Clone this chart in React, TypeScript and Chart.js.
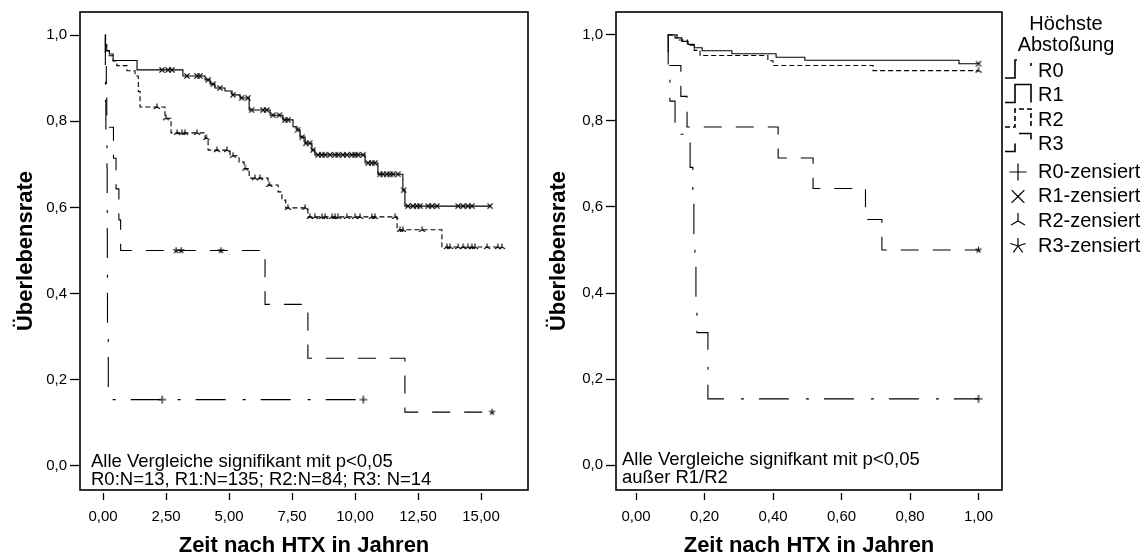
import React, { useEffect, useRef } from "react";
import { Chart, registerables } from "chart.js";

Chart.register(...registerables);

const FONT = "'Liberation Sans', Arial, Helvetica, sans-serif";

// ---------- tick labels ----------
const Y_TICKS = [0, 0.2, 0.4, 0.6, 0.8, 1.0];
const LEFT_X_TICKS = [0, 2.5, 5, 7.5, 10, 12.5, 15];
const RIGHT_X_TICKS = [0, 0.2, 0.4, 0.6, 0.8, 1.0];

// ---------- texts ----------
const GROUPS = ["R0", "R1", "R2", "R3"];
const CENSOR_LABELS = ["R0-zensiert", "R1-zensiert", "R2-zensiert", "R3-zensiert"];
const LEGEND_TITLE = ["Höchste", "Abstoßung"];
const X_TITLE = "Zeit nach HTX in Jahren";
const Y_TITLE = "Überlebensrate";
const LEFT_NOTE = ["Alle Vergleiche signifikant mit p<0,05", "R0:N=13, R1:N=135; R2:N=84; R3: N=14"];
const RIGHT_NOTE = ["Alle Vergleiche signifkant mit p<0,05", "außer R1/R2"];

// ---------- left plot (whole follow-up, years) ----------
const L_R0_T = [0.09, 0.093, 0.099, 0.114, 0.158, 0.166, 0.169, 0.172, 0.175, 0.178, 0.21, 10.33];
const L_R0_S = [1, 0.923, 0.846, 0.769, 0.692, 0.615, 0.538, 0.462, 0.385, 0.308, 0.154, 0.154];
const L_R0_C = [2.35, 10.33];

const L_R1_T = [0.09, 0.1, 0.15, 0.25, 0.4, 1.35, 3.17, 4.05, 4.25, 4.44, 4.84, 5.12, 5.44, 5.8, 6.63, 7.14, 7.54, 7.7, 7.82, 8.02, 8.29, 8.41, 10.4, 10.91, 11.9, 11.98, 15.36];
const L_R1_S = [1, 0.978, 0.963, 0.956, 0.941, 0.919, 0.905, 0.896, 0.886, 0.877, 0.87, 0.861, 0.854, 0.826, 0.814, 0.803, 0.787, 0.78, 0.763, 0.749, 0.733, 0.722, 0.703, 0.677, 0.64, 0.603, 0.603];
const L_R1_C = [2.34, 2.58, 2.74, 3.33, 3.73, 3.85, 4.17, 4.37, 4.64, 5.16, 5.5, 5.75, 5.9, 6.35, 6.5, 6.75, 7.0, 7.22, 7.34, 7.72, 7.9, 8.05, 8.2, 8.33, 8.53, 8.69, 8.81, 9.01, 9.21, 9.33, 9.52, 9.68, 9.88, 10.0, 10.12, 10.32, 10.52, 10.67, 10.79, 10.99, 11.11, 11.27, 11.39, 11.51, 11.71, 11.93, 12.1, 12.3, 12.46, 12.58, 12.9, 13.06, 13.25, 14.09, 14.29, 14.48, 14.64, 15.36];

const L_R2_T = [0.09, 0.1, 0.12, 0.25, 0.4, 0.55, 0.95, 1.27, 1.4, 1.47, 2.46, 2.7, 4.05, 4.17, 5.04, 5.4, 5.6, 5.8, 6.55, 6.95, 7.1, 7.25, 8.13, 11.67, 13.45, 15.83];
const L_R2_S = [1, 0.976, 0.964, 0.952, 0.94, 0.929, 0.917, 0.905, 0.869, 0.833, 0.807, 0.773, 0.761, 0.733, 0.72, 0.705, 0.69, 0.668, 0.652, 0.636, 0.617, 0.599, 0.578, 0.548, 0.508, 0.508];
const L_R2_C = [2.14, 2.5, 2.94, 3.13, 3.25, 3.73, 4.1, 4.52, 4.92, 5.16, 5.65, 6.03, 6.23, 6.6, 7.34, 8.02, 8.21, 8.41, 8.69, 8.81, 9.09, 9.21, 9.33, 9.68, 10.0, 10.2, 10.67, 10.79, 11.59, 11.79, 11.9, 12.66, 13.65, 13.77, 14.09, 14.29, 14.48, 14.64, 14.76, 15.24, 15.67, 15.83];

const L_R3_T = [0.09, 0.093, 0.131, 0.149, 0.415, 0.517, 0.63, 0.7, 6.43, 8.13, 11.98, 15.44];
const L_R3_S = [1, 0.929, 0.857, 0.786, 0.714, 0.643, 0.571, 0.5, 0.375, 0.25, 0.125, 0.125];
const L_R3_C = [2.9, 3.1, 4.68, 15.44];

// ---------- right plot (first year) ----------
const R_R0_T = [0.093, 0.094, 0.099, 0.114, 0.158, 0.166, 0.169, 0.172, 0.175, 0.178, 0.21, 1.0];
const R_R0_S = [1, 0.923, 0.846, 0.769, 0.692, 0.615, 0.538, 0.462, 0.385, 0.308, 0.154, 0.154];
const R_R0_C = [1.0];

const R_R1_T = [0.093, 0.114, 0.134, 0.152, 0.17, 0.193, 0.28, 0.409, 0.493, 0.943, 1.0];
const R_R1_S = [1, 0.993, 0.985, 0.978, 0.97, 0.963, 0.956, 0.948, 0.941, 0.933, 0.933];
const R_R1_C = [1.0];

const R_R2_T = [0.093, 0.12, 0.15, 0.17, 0.187, 0.385, 0.4, 0.692, 1.0];
const R_R2_S = [1, 0.988, 0.976, 0.964, 0.952, 0.94, 0.929, 0.917, 0.917];
const R_R2_C = [1.0];

const R_R3_T = [0.093, 0.094, 0.131, 0.149, 0.415, 0.517, 0.67, 0.718, 1.0];
const R_R3_S = [1, 0.929, 0.857, 0.786, 0.714, 0.643, 0.571, 0.5, 0.5];
const R_R3_C = [1.0];

// ---------- styles ----------
const DASHES = [[30, 17, 3, 15], [], [5, 3], [18, 14]];
const MARKERS = ["plus", "cross", "tri", "star"];
const PLOT_MARKER_R = [4, 3.6, 3.6, 3.2];
const LEGEND_MARKER_R = [8.5, 9, 8, 8];

type Series = { t: number[]; s: number[]; c: number[] };

const LEFT_SERIES: Series[] = [
  { t: L_R0_T, s: L_R0_S, c: L_R0_C },
  { t: L_R1_T, s: L_R1_S, c: L_R1_C },
  { t: L_R2_T, s: L_R2_S, c: L_R2_C },
  { t: L_R3_T, s: L_R3_S, c: L_R3_C },
];
const RIGHT_SERIES: Series[] = [
  { t: R_R0_T, s: R_R0_S, c: R_R0_C },
  { t: R_R1_T, s: R_R1_S, c: R_R1_C },
  { t: R_R2_T, s: R_R2_S, c: R_R2_C },
  { t: R_R3_T, s: R_R3_S, c: R_R3_C },
];

function survAt(T: number[], S: number[], t: number) {
  let v = S[0];
  for (let i = 0; i < T.length; i++) if (T[i] <= t + 1e-9) v = S[i];
  return v;
}

const ANGLES: Record<string, number[]> = {
  plus: [0, 90, 180, 270],
  cross: [45, 135, 225, 315],
  tri: [-90, 30, 150],
  star: [-90, -18, 54, 126, 198],
};

function strokeMarker(ctx: CanvasRenderingContext2D, kind: string, cx: number, cy: number, r: number, lw: number) {
  ctx.save();
  ctx.strokeStyle = "#000";
  ctx.lineWidth = lw;
  ctx.setLineDash([]);
  ctx.beginPath();
  for (const a of ANGLES[kind]) {
    const rad = (a * Math.PI) / 180;
    ctx.moveTo(cx, cy);
    ctx.lineTo(cx + r * Math.cos(rad), cy + r * Math.sin(rad));
  }
  ctx.stroke();
  ctx.restore();
}

function markerCanvas(kind: string, r: number) {
  const c = document.createElement("canvas");
  const dim = Math.ceil(r * 2 + 4);
  c.width = dim;
  c.height = dim;
  const ctx = c.getContext("2d")!;
  strokeMarker(ctx, kind, dim / 2, dim / 2, r, 1.1);
  return c;
}

const fmt = (v: number, d: number) => v.toFixed(d).replace(".", ",");

type PlotProps = {
  left: number;
  width: number;
  series: Series[];
  xMin: number;
  xMax: number;
  yMin: number;
  yMax: number;
  xTicks: number[];
  xDec: number;
  yAxisWidth: number;
  pad: { top: number; right: number };
  note: string[];
  noteDx: number;
  noteY: number[];
  legend: boolean;
};

function KMPlot(p: PlotProps) {
  const ref = useRef<HTMLCanvasElement>(null);
  useEffect(() => {
    const canvas = ref.current!;
    const datasets: any[] = [];
    p.series.forEach((se, i) => {
      datasets.push({
        data: se.t.map((t, k) => ({ x: t, y: se.s[k] })),
        showLine: true,
        stepped: true,
        borderColor: "#000",
        backgroundColor: "#000",
        borderWidth: 1.1,
        borderDash: DASHES[i],
        pointRadius: 0,
        pointHoverRadius: 0,
        fill: false,
      });
    });
    p.series.forEach((se, i) => {
      datasets.push({
        data: se.c.map((t) => ({ x: t, y: survAt(se.t, se.s, t) })),
        showLine: false,
        pointStyle: markerCanvas(MARKERS[i], PLOT_MARKER_R[i]),
        pointRadius: 4,
        pointHoverRadius: 4,
        borderColor: "#000",
        backgroundColor: "#000",
      });
    });

    const framePlugin = {
      id: "frame",
      afterDatasetsDraw(chart: any) {
        const { ctx, chartArea } = chart;
        ctx.save();
        ctx.strokeStyle = "#000";
        ctx.lineWidth = 1.6;
        ctx.setLineDash([]);
        ctx.strokeRect(chartArea.left, chartArea.top, chartArea.right - chartArea.left, chartArea.bottom - chartArea.top);
        ctx.font = `18.5px ${FONT}`;
        ctx.fillStyle = "#000";
        ctx.textAlign = "left";
        ctx.textBaseline = "alphabetic";
        p.note.forEach((line, i) => ctx.fillText(line, chartArea.left + p.noteDx, p.noteY[i]));
        ctx.restore();
      },
    };

    const legendPlugin = {
      id: "kmLegend",
      afterDraw(chart: any) {
        if (!p.legend) return;
        const ctx: CanvasRenderingContext2D = chart.ctx;
        const ox = -p.left;
        ctx.save();
        ctx.fillStyle = "#000";
        ctx.font = `20px ${FONT}`;
        ctx.textAlign = "center";
        ctx.textBaseline = "alphabetic";
        ctx.fillText(LEGEND_TITLE[0], 1066 + ox, 30);
        ctx.fillText(LEGEND_TITLE[1], 1066 + ox, 51);
        ctx.textAlign = "left";
        ctx.textBaseline = "middle";
        const lineY = [71, 95.5, 120, 144.5];
        const markY = [172, 196.5, 221, 246];
        GROUPS.forEach((g, i) => {
          const cy = lineY[i];
          ctx.save();
          ctx.strokeStyle = "#000";
          ctx.lineWidth = 1.6;
          ctx.setLineDash(DASHES[i]);
          ctx.beginPath();
          ctx.moveTo(1005 + ox, cy + 7);
          ctx.lineTo(1015 + ox, cy + 7);
          ctx.lineTo(1015 + ox, cy - 11);
          ctx.lineTo(1031 + ox, cy - 11);
          ctx.lineTo(1031 + ox, cy + 7);
          ctx.stroke();
          ctx.restore();
          ctx.fillText(g, 1038 + ox, cy);
        });
        CENSOR_LABELS.forEach((g, i) => {
          const cy = markY[i];
          strokeMarker(ctx, MARKERS[i], 1018 + ox, cy, LEGEND_MARKER_R[i], 1.2);
          ctx.fillText(g, 1038 + ox, cy);
        });
        ctx.restore();
      },
    };

    const chart = new Chart(canvas, {
      type: "scatter",
      data: { datasets },
      options: {
        responsive: false,
        animation: false,
        events: [],
        layout: { padding: { left: 0, top: p.pad.top, right: p.pad.right, bottom: 0 } },
        plugins: { legend: { display: false }, tooltip: { enabled: false } },
        scales: {
          x: {
            type: "linear",
            min: p.xMin,
            max: p.xMax,
            afterBuildTicks: (s: any) => {
              s.ticks = p.xTicks.map((v) => ({ value: v }));
            },
            afterFit: (s: any) => {
              s.height = 69;
            },
            border: { display: false },
            grid: {
              drawOnChartArea: false,
              drawTicks: true,
              tickLength: 10,
              tickColor: "#000",
              tickWidth: 1.3,
              tickBorderDash: [0, 3, 7, 10],
            },
            ticks: {
              color: "#000",
              font: { family: FONT, size: 15 },
              padding: 8,
              maxRotation: 0,
              minRotation: 0,
              autoSkip: false,
              callback: (v: any) => fmt(Number(v), p.xDec),
            },
            title: {
              display: true,
              text: X_TITLE,
              color: "#000",
              font: { family: FONT, size: 22, weight: "bold" },
              padding: { top: 0, bottom: 0 },
            },
          },
          y: {
            type: "linear",
            min: p.yMin,
            max: p.yMax,
            afterBuildTicks: (s: any) => {
              s.ticks = Y_TICKS.map((v) => ({ value: v }));
            },
            afterFit: (s: any) => {
              s.width = p.yAxisWidth;
            },
            border: { display: false },
            grid: {
              drawOnChartArea: false,
              drawTicks: true,
              tickLength: 10,
              tickColor: "#000",
              tickWidth: 1.3,
            },
            ticks: {
              color: "#000",
              font: { family: FONT, size: 15 },
              padding: 3,
              autoSkip: false,
              callback: (v: any) => fmt(Number(v), 1),
            },
            title: {
              display: true,
              text: Y_TITLE,
              color: "#000",
              font: { family: FONT, size: 22, weight: "bold" },
              padding: { top: 13, bottom: 0 },
            },
          },
        },
      } as any,
      plugins: [framePlugin, legendPlugin],
    });
    return () => chart.destroy();
  }, []);
  return (
    <canvas
      ref={ref}
      width={p.width}
      height={559}
      style={{ position: "absolute", left: p.left, top: 0, width: p.width, height: 559 }}
    />
  );
}

export default function App() {
  return (
    <div style={{ position: "absolute", left: 0, top: 0, width: 1147, height: 559, background: "#fff", overflow: "hidden" }}>
      <KMPlot
        left={0}
        width={533}
        series={LEFT_SERIES}
        xMin={-0.913}
        xMax={16.865}
        yMin={-0.0557}
        yMax={1.0534}
        xTicks={LEFT_X_TICKS}
        xDec={2}
        yAxisWidth={80}
        pad={{ top: 12, right: 5 }}
        note={LEFT_NOTE}
        noteDx={11}
        noteY={[467, 485]}
        legend={false}
      />
      <KMPlot
        left={533}
        width={614}
        series={RIGHT_SERIES}
        xMin={-0.0584}
        xMax={1.0686}
        yMin={-0.0579}
        yMax={1.0532}
        xTicks={RIGHT_X_TICKS}
        xDec={2}
        yAxisWidth={83}
        pad={{ top: 10, right: 145 }}
        note={RIGHT_NOTE}
        noteDx={6}
        noteY={[465, 483]}
        legend={true}
      />
    </div>
  );
}
